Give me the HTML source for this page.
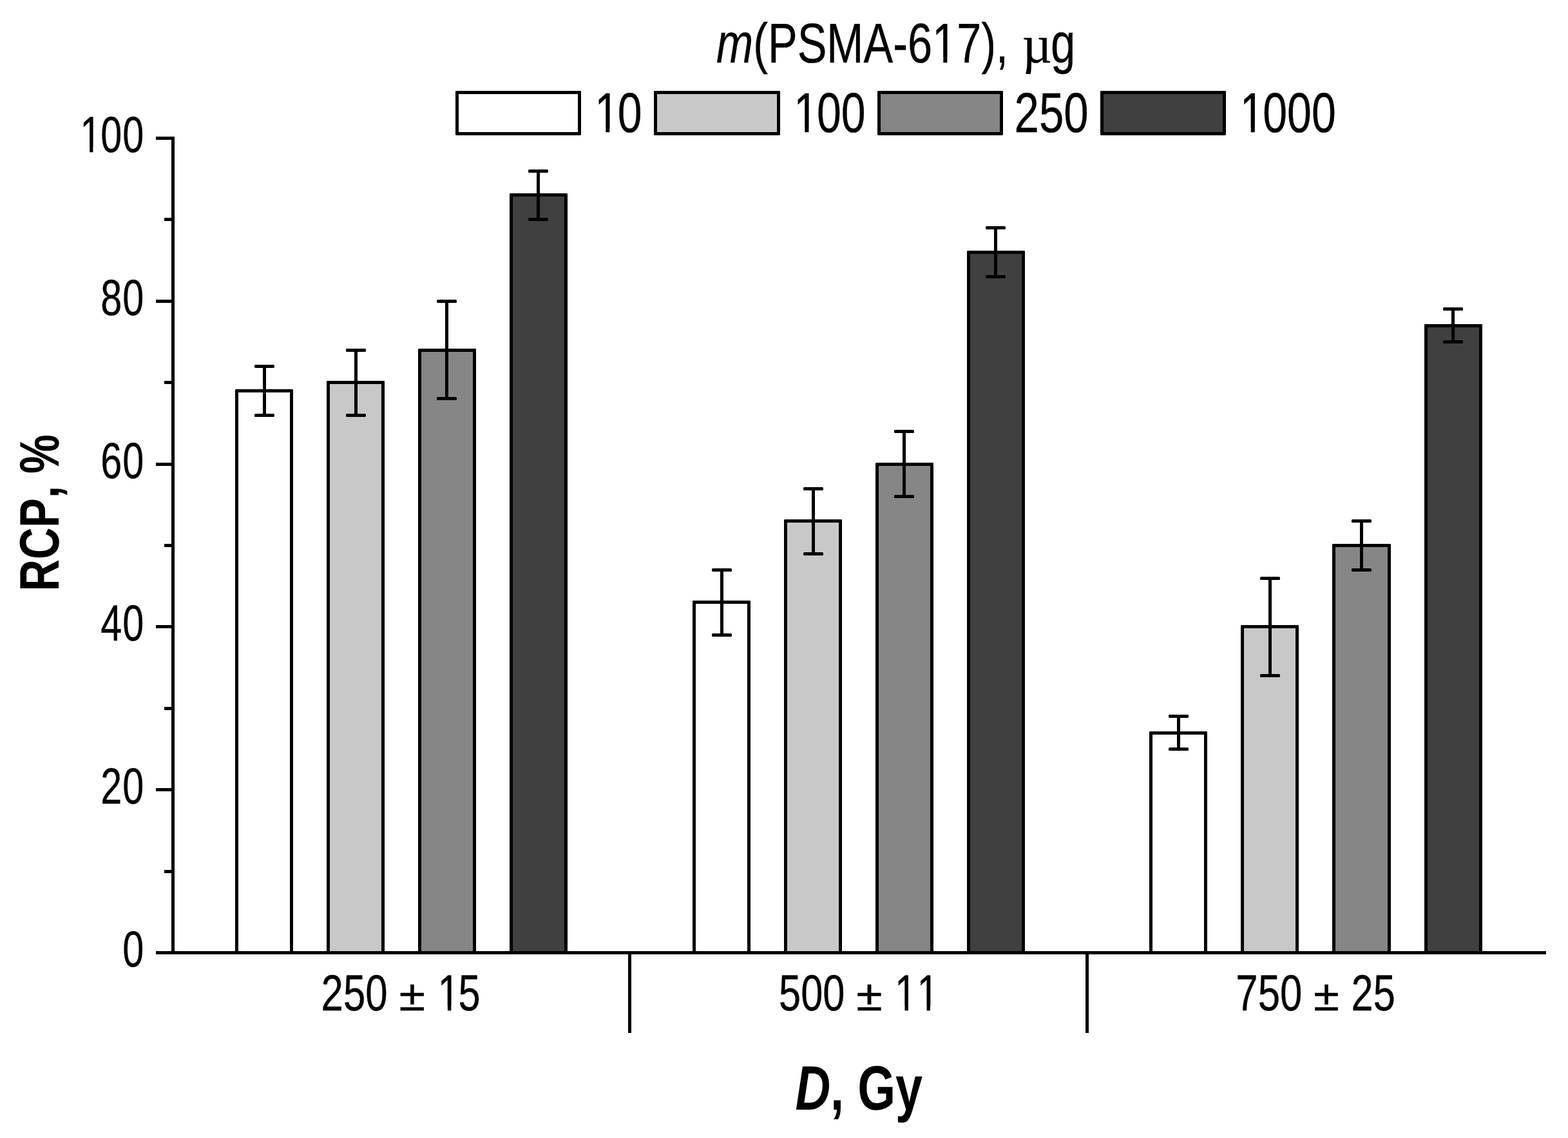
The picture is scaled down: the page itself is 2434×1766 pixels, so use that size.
<!DOCTYPE html>
<html lang="en">
<head>
<meta charset="utf-8">
<title>RCP vs absorbed dose for different PSMA-617 amounts</title>
<style>
html,body{margin:0;padding:0;background:#fff;}
body{width:2434px;height:1766px;overflow:hidden;}
svg{display:block;}
text{font-family:"Liberation Sans", Arial, Helvetica, sans-serif;fill:#000;font-kerning:none;text-rendering:geometricPrecision;}
text{stroke:#000;stroke-width:0.35px;stroke-linejoin:round;}
.b{font-weight:bold;stroke:none;}
.i{font-style:italic;}
.mu{font-family:"Liberation Serif","DejaVu Serif",serif;}
.p{fill:#fff;}
</style>
</head>
<body>
<svg width="2434" height="1766" viewBox="0 0 2434 1766" role="img" aria-label="Bar chart: RCP, % versus D, Gy for m(PSMA-617) of 10, 100, 250 and 1000 µg">
<rect x="0" y="0" width="2434" height="1766" fill="#ffffff"/>
<g>
<rect x="365" y="604" width="90" height="875" rx="1.4" fill="#000"/>
<rect x="370" y="609" width="80" height="870" fill="#ffffff"/>
<rect x="507" y="591" width="90" height="888" rx="1.4" fill="#000"/>
<rect x="512" y="596" width="80" height="883" fill="#c8c8c8"/>
<rect x="649" y="541" width="90" height="938" rx="1.4" fill="#000"/>
<rect x="654" y="546" width="80" height="933" fill="#868686"/>
<rect x="791" y="300" width="90" height="1179" rx="1.4" fill="#000"/>
<rect x="796" y="305" width="80" height="1174" fill="#404040"/>
<rect x="1075" y="932" width="90" height="547" rx="1.4" fill="#000"/>
<rect x="1080" y="937" width="80" height="542" fill="#ffffff"/>
<rect x="1217" y="806" width="90" height="673" rx="1.4" fill="#000"/>
<rect x="1222" y="811" width="80" height="668" fill="#c8c8c8"/>
<rect x="1359" y="718" width="90" height="761" rx="1.4" fill="#000"/>
<rect x="1364" y="723" width="80" height="756" fill="#868686"/>
<rect x="1501" y="389" width="90" height="1090" rx="1.4" fill="#000"/>
<rect x="1506" y="394" width="80" height="1085" fill="#404040"/>
<rect x="1784" y="1135" width="90" height="344" rx="1.4" fill="#000"/>
<rect x="1789" y="1140" width="80" height="339" fill="#ffffff"/>
<rect x="1926" y="970" width="90" height="509" rx="1.4" fill="#000"/>
<rect x="1931" y="975" width="80" height="504" fill="#c8c8c8"/>
<rect x="2068" y="844" width="91" height="635" rx="1.4" fill="#000"/>
<rect x="2073" y="849" width="81" height="630" fill="#868686"/>
<rect x="2211" y="503" width="90" height="976" rx="1.4" fill="#000"/>
<rect x="2216" y="508" width="80" height="971" fill="#404040"/>
</g>
<g fill="#000">
<rect x="408" y="568.5" width="5" height="76"/>
<rect x="395" y="566" width="31" height="5" rx="1.6"/>
<rect x="395" y="642" width="31" height="5" rx="1.6"/>
<rect x="550" y="543.5" width="5" height="101"/>
<rect x="537" y="541" width="31" height="5" rx="1.6"/>
<rect x="537" y="642" width="31" height="5" rx="1.6"/>
<rect x="691" y="467.5" width="5" height="151"/>
<rect x="678" y="465" width="31" height="5" rx="1.6"/>
<rect x="678" y="616" width="31" height="5" rx="1.6"/>
<rect x="833" y="265.5" width="5" height="75"/>
<rect x="820" y="263" width="31" height="5" rx="1.6"/>
<rect x="820" y="338" width="31" height="5" rx="1.6"/>
<rect x="1118" y="884.5" width="5" height="101"/>
<rect x="1105" y="882" width="31" height="5" rx="1.6"/>
<rect x="1105" y="983" width="31" height="5" rx="1.6"/>
<rect x="1260" y="758.5" width="5" height="101"/>
<rect x="1247" y="756" width="31" height="5" rx="1.6"/>
<rect x="1247" y="857" width="31" height="5" rx="1.6"/>
<rect x="1401" y="669.5" width="5" height="101"/>
<rect x="1388" y="667" width="31" height="5" rx="1.6"/>
<rect x="1388" y="768" width="31" height="5" rx="1.6"/>
<rect x="1543" y="353.5" width="5" height="76"/>
<rect x="1530" y="351" width="31" height="5" rx="1.6"/>
<rect x="1530" y="427" width="31" height="5" rx="1.6"/>
<rect x="1827" y="1111.5" width="5" height="51"/>
<rect x="1814" y="1109" width="31" height="5" rx="1.6"/>
<rect x="1814" y="1160" width="31" height="5" rx="1.6"/>
<rect x="1969" y="897.5" width="5" height="151"/>
<rect x="1956" y="895" width="31" height="5" rx="1.6"/>
<rect x="1956" y="1046" width="31" height="5" rx="1.6"/>
<rect x="2111" y="808.5" width="5" height="76"/>
<rect x="2098" y="806" width="31" height="5" rx="1.6"/>
<rect x="2098" y="882" width="31" height="5" rx="1.6"/>
<rect x="2253" y="479.5" width="5" height="51"/>
<rect x="2240" y="477" width="31" height="5" rx="1.6"/>
<rect x="2240" y="528" width="31" height="5" rx="1.6"/>
</g>
<g fill="#000">
<rect x="266" y="212" width="5" height="1269"/>
<rect x="242" y="1476" width="2158" height="5"/>
<rect x="255" y="1350" width="13" height="5"/>
<rect x="242" y="1223" width="26" height="5"/>
<rect x="255" y="1097" width="13" height="5"/>
<rect x="242" y="970" width="26" height="5"/>
<rect x="255" y="844" width="13" height="5"/>
<rect x="242" y="718" width="26" height="5"/>
<rect x="255" y="591" width="13" height="5"/>
<rect x="242" y="465" width="26" height="5"/>
<rect x="255" y="338" width="13" height="5"/>
<rect x="242" y="212" width="26" height="5"/>
<rect x="975" y="1478" width="5" height="125"/>
<rect x="1685" y="1478" width="5" height="125"/>
</g>
<g>
<text font-size="78.80" transform="translate(190.28 1500.10) scale(0.7538 1)"><tspan x="0.00">0</tspan></text>
<text font-size="78.80" transform="translate(156.25 1247.10) scale(0.7538 1)"><tspan x="0.00 45.15">20</tspan></text>
<text font-size="78.80" transform="translate(156.25 994.10) scale(0.7538 1)"><tspan x="0.00 45.15">40</tspan></text>
<text font-size="78.80" transform="translate(156.25 742.10) scale(0.7538 1)"><tspan x="0.00 45.15">60</tspan></text>
<text font-size="78.80" transform="translate(156.25 489.10) scale(0.7538 1)"><tspan x="0.00 45.15">80</tspan></text>
<text font-size="78.80" transform="translate(122.21 236.10) scale(0.7538 1)"><tspan x="2.65 45.15 90.30">100</tspan></text><rect class="p" x="127.74" y="229.00" width="11.41" height="8.00"/><rect class="p" x="144.40" y="229.00" width="10.95" height="8.00"/>
</g>
<g>
<text font-size="78.80" transform="translate(498.59 1568.10) scale(0.7844 1)">250 </text>
<text font-size="67.20" transform="translate(619.55 1568.10) scale(1.1027 1)">± </text>
<text font-size="78.80" transform="translate(677.49 1568.10) scale(0.7779 1)"><tspan x="2.57 43.82">15</tspan></text><rect class="p" x="683.16" y="1561.00" width="11.75" height="8.00"/><rect class="p" x="700.32" y="1561.00" width="11.27" height="8.00"/>
</g>
<g>
<text font-size="78.80" transform="translate(1209.04 1568.10) scale(0.7785 1)">500 </text>
<text font-size="67.20" transform="translate(1329.16 1568.10) scale(1.0965 1)">± </text>
<text font-size="78.80" transform="translate(1387.08 1568.10) scale(0.7779 1)"><tspan x="2.57 46.40">11</tspan></text><rect class="p" x="1392.74" y="1561.00" width="11.75" height="8.00"/><rect class="p" x="1409.91" y="1561.00" width="11.27" height="8.00"/><rect class="p" x="1426.84" y="1561.00" width="11.75" height="8.00"/><rect class="p" x="1444.00" y="1561.00" width="11.27" height="8.00"/>
</g>
<g>
<text font-size="78.80" transform="translate(1918.33 1568.10) scale(0.7840 1)">750 </text>
<text font-size="67.20" transform="translate(2038.99 1568.10) scale(1.0843 1)">± </text>
<text font-size="78.80" transform="translate(2097.59 1568.10) scale(0.7779 1)"><tspan x="0.00 43.82">25</tspan></text>
</g>
<text class="b" font-size="97.50" transform="translate(1234.47 1722.00) scale(0.7761 1)"><tspan class="i">D</tspan>, Gy</text>
<text class="b" font-size="86.60" transform="translate(90.90 917.48) rotate(-90) scale(0.7903 1)">RCP, %</text>
<g>
<text font-size="87.10" transform="translate(1112.06 97.00) scale(0.7867 1)"><tspan class="i">m</tspan>(PSMA-617), </text><rect class="p" x="1451.30" y="89.00" width="13.01" height="9.00"/><rect class="p" x="1470.37" y="89.00" width="12.48" height="9.00"/>
<text class="mu" font-size="82.80" transform="translate(1586.73 97.00) scale(0.9615 1)">µ</text>
<text font-size="87.10" transform="translate(1631.11 97.00) scale(0.7914 1)">g</text>
</g>
<g>
<rect x="707.00" y="141.00" width="195.00" height="69.00" rx="1.4" fill="#000"/>
<rect x="712.00" y="146.00" width="185.00" height="59.00" fill="#ffffff"/>
<rect x="1015.00" y="141.00" width="196.00" height="69.00" rx="1.4" fill="#000"/>
<rect x="1020.00" y="146.00" width="186.00" height="59.00" fill="#c8c8c8"/>
<rect x="1362.00" y="141.00" width="195.00" height="69.00" rx="1.4" fill="#000"/>
<rect x="1367.00" y="146.00" width="185.00" height="59.00" fill="#868686"/>
<rect x="1708.00" y="141.00" width="195.00" height="69.00" rx="1.4" fill="#000"/>
<rect x="1713.00" y="146.00" width="185.00" height="59.00" fill="#404040"/>
</g>
<g>
<text font-size="87.30" transform="translate(921.02 205.40) scale(0.7789 1)"><tspan x="2.82 48.55">10</tspan></text><rect class="p" x="927.40" y="198.00" width="12.92" height="9.00"/><rect class="p" x="946.33" y="198.00" width="12.39" height="9.00"/>
<text font-size="87.30" transform="translate(1230.10 205.40) scale(0.7789 1)"><tspan x="2.82 48.55 97.10">100</tspan></text><rect class="p" x="1236.48" y="198.00" width="12.92" height="9.00"/><rect class="p" x="1255.41" y="198.00" width="12.39" height="9.00"/>
<text font-size="87.30" transform="translate(1574.48 205.40) scale(0.7910 1)">250</text>
<text font-size="87.30" transform="translate(1922.48 205.40) scale(0.7789 1)"><tspan x="2.82 48.55 97.10 145.66">1000</tspan></text><rect class="p" x="1928.86" y="198.00" width="12.92" height="9.00"/><rect class="p" x="1947.79" y="198.00" width="12.39" height="9.00"/>
</g>
</svg>
</body>
</html>
